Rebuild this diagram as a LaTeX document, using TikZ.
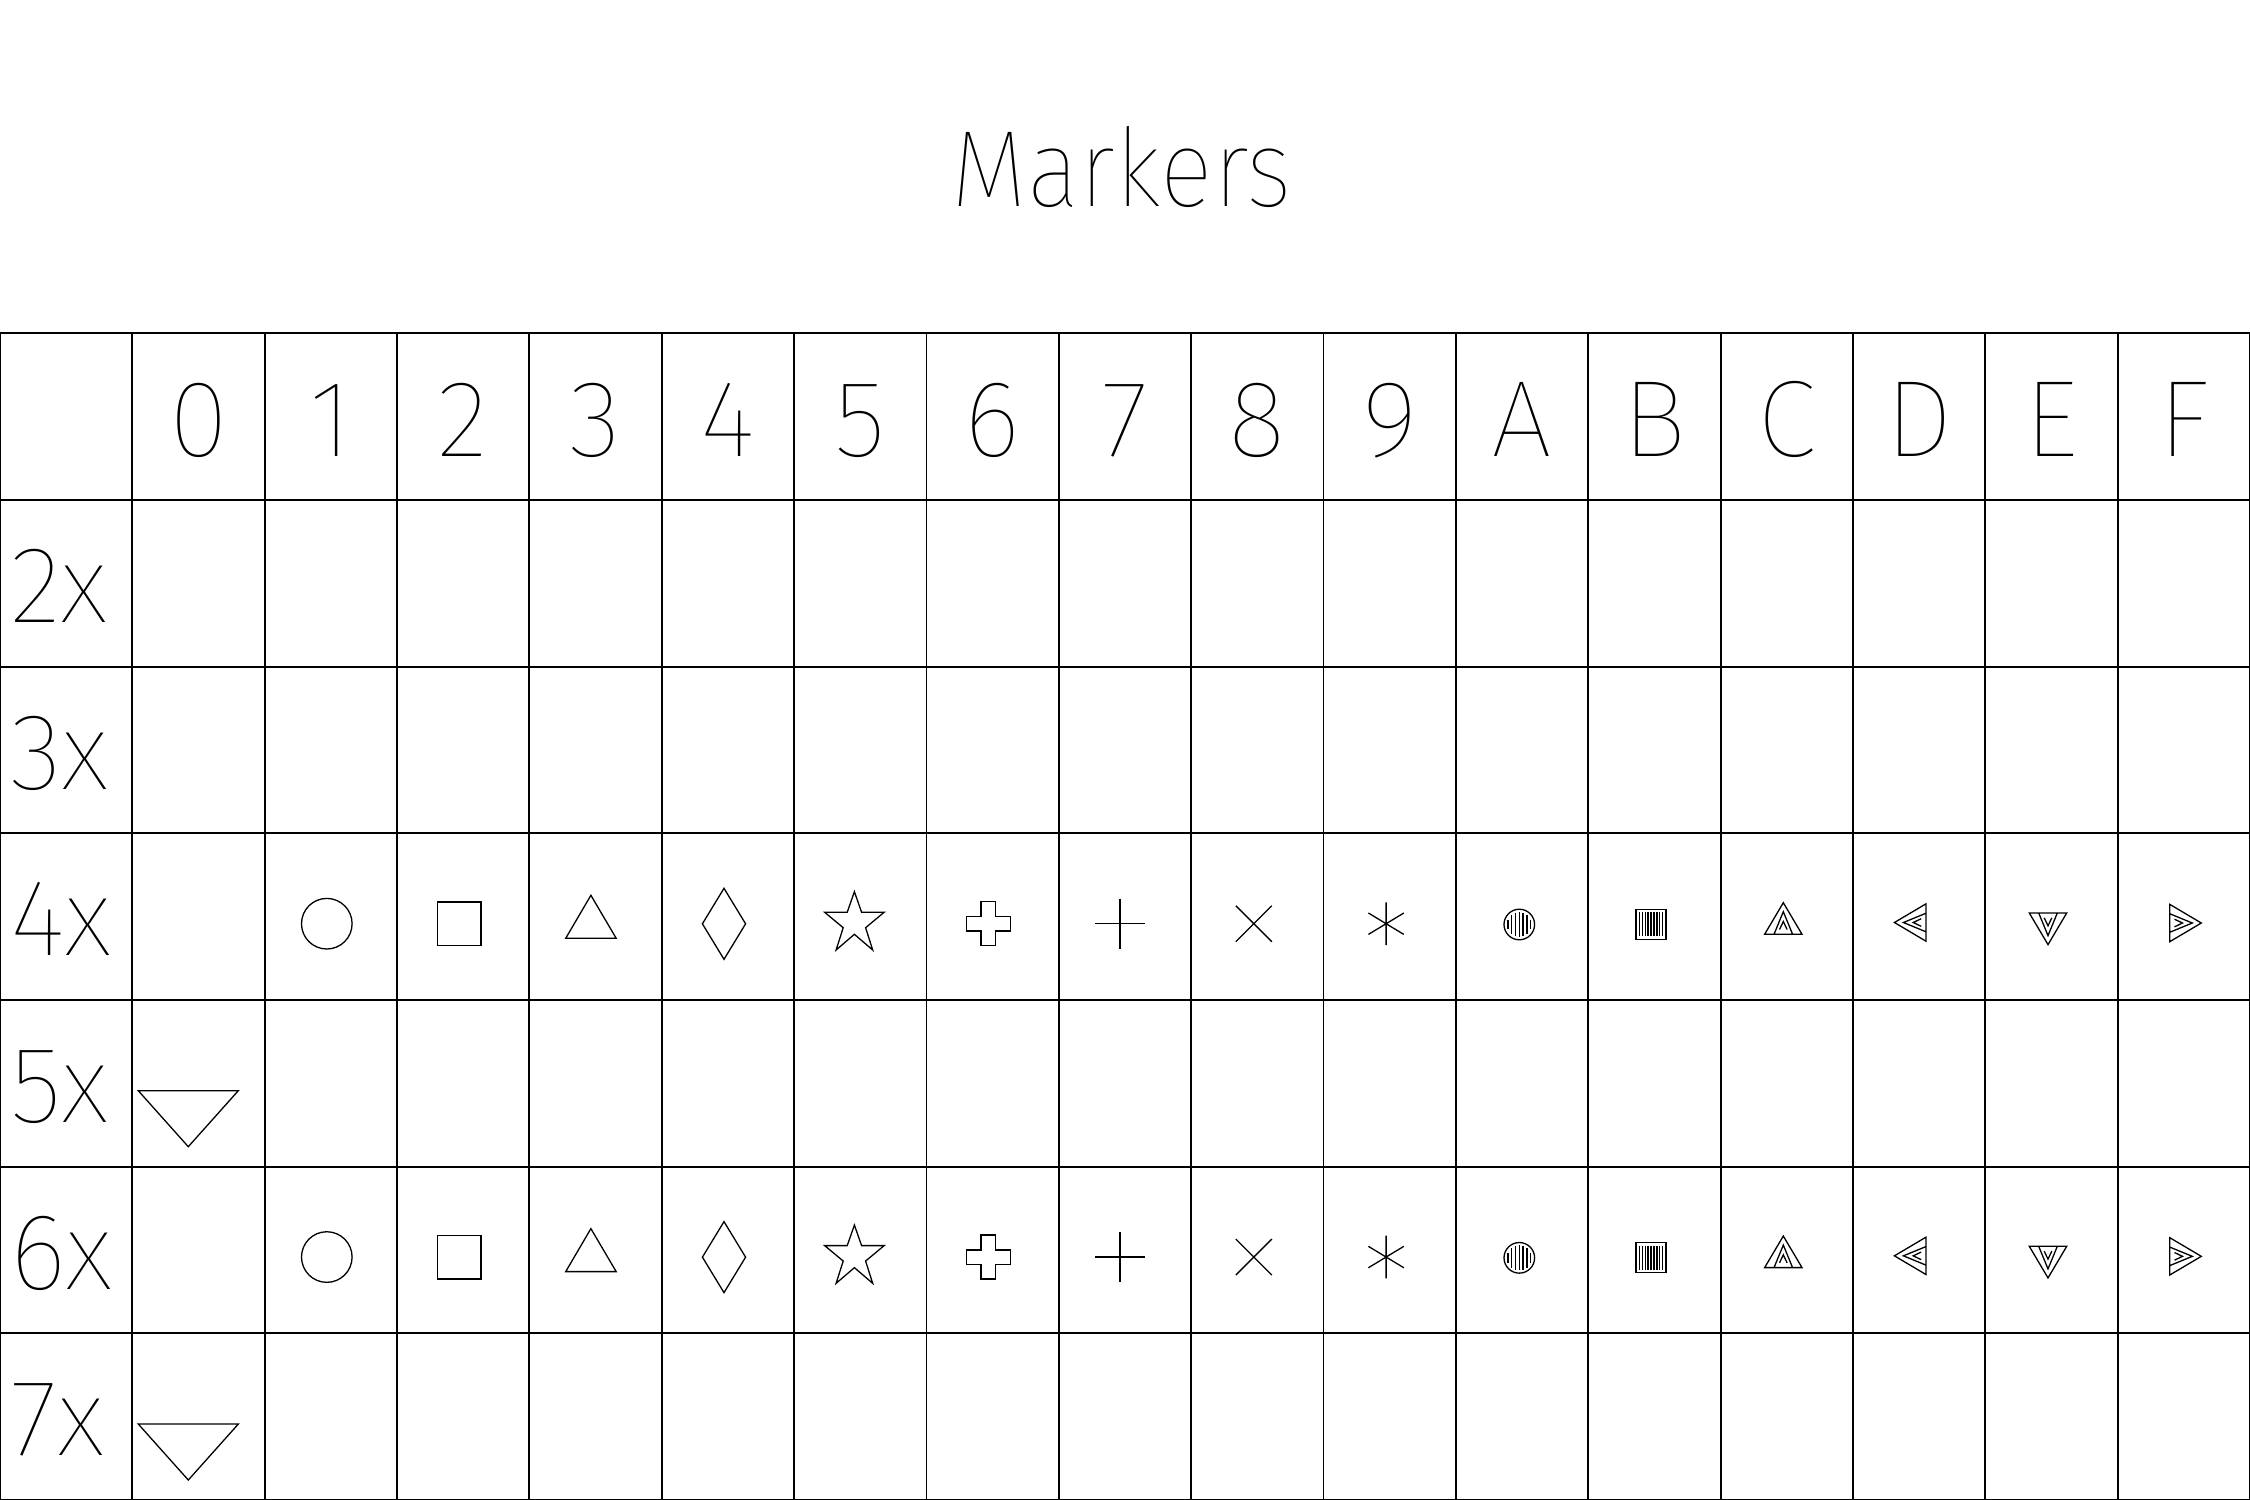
\documentclass[tikz,border=0pt]{standalone}
\usepackage{fontspec}
\IfFontExistsTF{Fira Sans Thin}{\newfontfamily\hf{Fira Sans Thin}}{%
 \IfFontExistsTF{Lato Hairline}{\newfontfamily\hf{Lato Hairline}}{%
  \IfFontExistsTF{Fira Sans Light}{\newfontfamily\hf{Fira Sans Light}}{%
   \IfFontExistsTF{Lato Light}{\newfontfamily\hf{Lato Light}}{%
    \newfontfamily\hf{Lato}}}}}
\begin{document}
\begin{tikzpicture}[x=0.5pt,y=-0.5pt,
  gridline/.style={line width=0.95pt},
  mk/.style={line width=0.65pt, line join=miter},
  lbl/.style={font=\hf\fontsize{54.4}{60}\selectfont, inner sep=0pt},
  ntri/.pic={\draw[mk] (0,-15.8) -- (18.7,15.8) -- (-18.7,15.8) -- cycle
      (-9.3,15.8) -- (0,-6.8) -- (9.3,15.8)
      (-3.8,11) -- (0,3) -- (3.8,11);}]
\useasboundingbox (0,0) rectangle (2250,1500);
\fill[white] (0,0) rectangle (2250,1500);
% grid
\foreach \i in {0,...,17} \draw[gridline] ({\i*132.353},333.33) -- ({\i*132.353},1500);
\foreach \j in {0,...,7} \draw[gridline] (0,{333.33+\j*166.667}) -- (2250,{333.33+\j*166.667});
% title
\node[lbl, anchor=base, xscale=0.91, transform shape] (title) at (1122,206) {Markers};
% column headers
\foreach \c [count=\i] in {0,1,2,3,4,5,6,7,8,9,A,B,C,D,E,F}
  \node[lbl, anchor=base] (h\i) at ({(\i+0.5)*132.353},456) {\c};
% row labels
\foreach \r [count=\k] in {2,3,4,5,6,7}
  \node[lbl, anchor=base west] (r\r) at (10,{333.33+\k*166.667+166.667-44.2}) {\r x};
% big down triangles
\foreach \dy in {0,333.33}{
  \draw[mk] (138.3,{1090.7+\dy}) -- (238.3,{1090.7+\dy}) -- (188.3,{1146.7+\dy}) -- cycle;
}
% marker rows
\foreach \dy in {0,333.33}{
\begin{scope}[shift={(0,\dy)}]
  \draw[mk] (326.8,923.7) circle[radius=25.3];
  \draw[mk] (437.7,902) rectangle (481.1,945.7);
  \draw[mk] (590.9,895.3) -- (616.2,938.3) -- (565.7,938.3) -- cycle;
  \draw[mk] (724,888.3) -- (745.6,923.8) -- (724,959.3) -- (702.4,923.8) -- cycle;
  \draw[mk] (854.4,891.7) -- (861.6,912.3) -- (884.1,912.3) -- (865.6,927.7) -- (872.7,950)
     -- (854.4,934.3) -- (836.1,950) -- (843.2,927.7) -- (824.7,912.3) -- (847.2,912.3) -- cycle;
  \begin{scope}[shift={(988.2,923.8)}]
    \draw[mk] (-7.25,-22) -- (7.25,-22) -- (7.25,-7.25) -- (22,-7.25) -- (22,7.25) -- (7.25,7.25)
      -- (7.25,22) -- (-7.25,22) -- (-7.25,7.25) -- (-22,7.25) -- (-22,-7.25) -- (-7.25,-7.25) -- cycle;
  \end{scope}
  \draw[mk] (1095,923.7) -- (1145,923.7) (1120,898.7) -- (1120,948.7);
  \draw[mk] (1235.8,905.7) -- (1271.8,941.7) (1235.8,941.7) -- (1271.8,905.7);
  \draw[mk] (1386.1,902.3) -- (1386.1,945) (1368.4,913) -- (1403.8,934.4) (1368.4,934.4) -- (1403.8,913);
  \begin{scope}[shift={(1519.3,924.5)}]
    \draw[mk] (0,0) circle[radius=15.3];
    \foreach \dx/\h in {-11.4/4.9,-7.6/9.8,-3.8/11.8,0/12.4,3.8/11.8,7.6/9.8,11.4/4.9}
      \draw[mk] (\dx,-\h) -- (\dx,\h);
  \end{scope}
  \begin{scope}[shift={(1651,924.2)}]
    \draw[mk] (-15,-15) rectangle (15,15);
    \foreach \n in {-4,...,4}
      \draw[mk] ({\n*2.925},-12) -- ({\n*2.925},12);
  \end{scope}
  \pic at (1783.3,918.5) {ntri};
  \pic[rotate=90] at (1910.2,922.5) {ntri};
  \pic[rotate=180] at (2048,928.8) {ntri};
  \pic[rotate=-90] at (2185.5,923) {ntri};
\end{scope}
}
\end{tikzpicture}
\end{document}
